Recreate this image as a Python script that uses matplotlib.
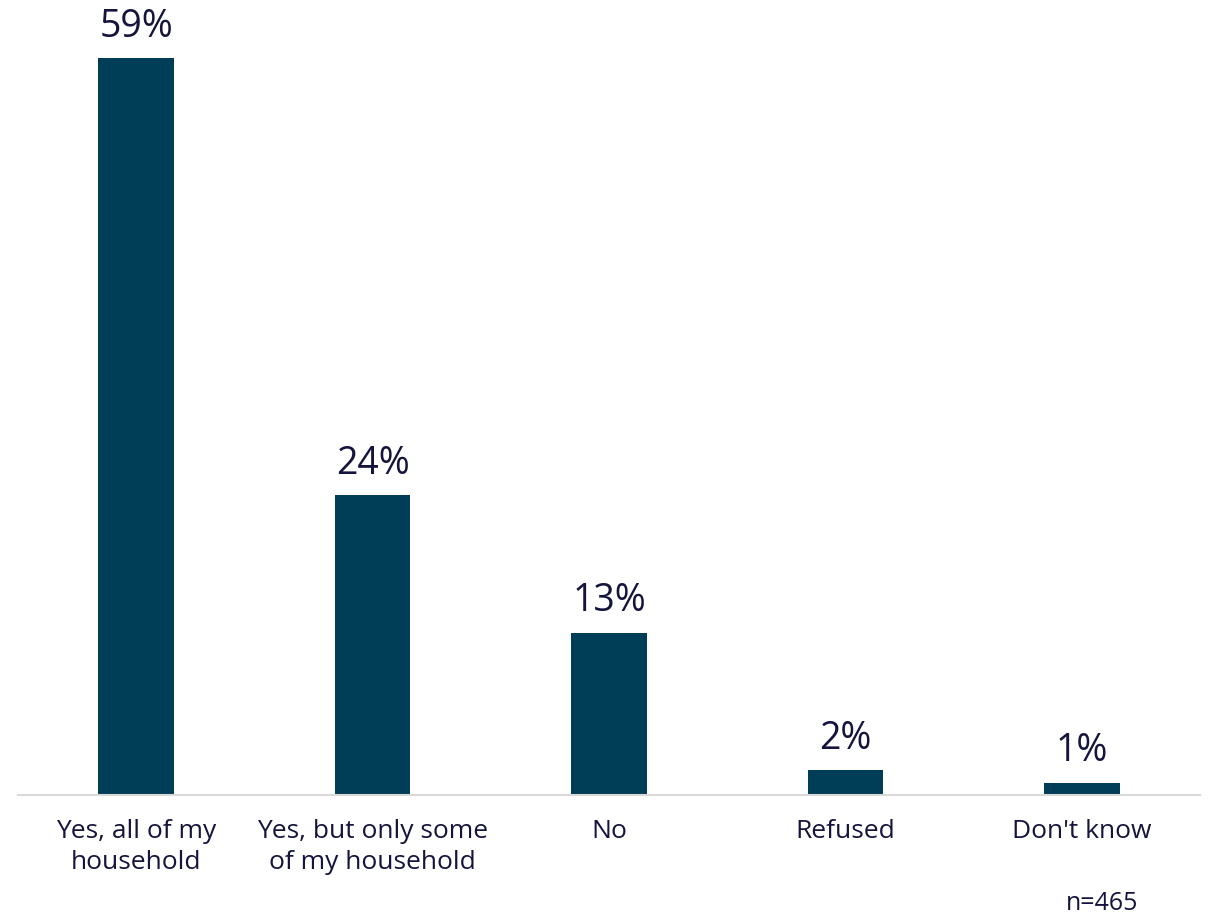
import matplotlib.pyplot as plt

categories = ["Yes, all of my\nhousehold", "Yes, but only some\nof my household", "No", "Refused", "Don't know"]
values = [59, 24, 13, 2, 1]
value_labels = ["59%", "24%", "13%", "2%", "1%"]

plt.rcParams['font.family'] = ['Open Sans', 'DejaVu Sans']
text_color = "#14143c"
bar_color = "#003d57"

fig = plt.figure(figsize=(12.1, 9.18), dpi=100)
ax = fig.add_axes([18 / 1210, 1 - 795 / 918, 1182 / 1210, 795 / 918])

x = range(len(categories))
ax.bar(x, values, width=0.32, color=bar_color)
for i, v in enumerate(values):
    ax.text(i, v + 1.0, value_labels[i], ha="center", va="bottom", fontsize=27, color=text_color)

ax.set_xlim(-0.5, 4.5)
ax.set_ylim(0, 795 / 12.49)
ax.set_xticks(list(x))
ax.set_xticklabels(categories, fontsize=19, color=text_color, linespacing=1.35)
ax.tick_params(axis="x", length=0, pad=17)
ax.set_yticks([])
for s in ["top", "right", "left"]:
    ax.spines[s].set_visible(False)
ax.spines["bottom"].set_color("#d9d9d9")
ax.spines["bottom"].set_linewidth(1.5)

fig.text(1102 / 1210, 1 - 903 / 918, "n=465", ha="center", va="center", fontsize=18, color=text_color)

fig.savefig("out.png", dpi=100)
